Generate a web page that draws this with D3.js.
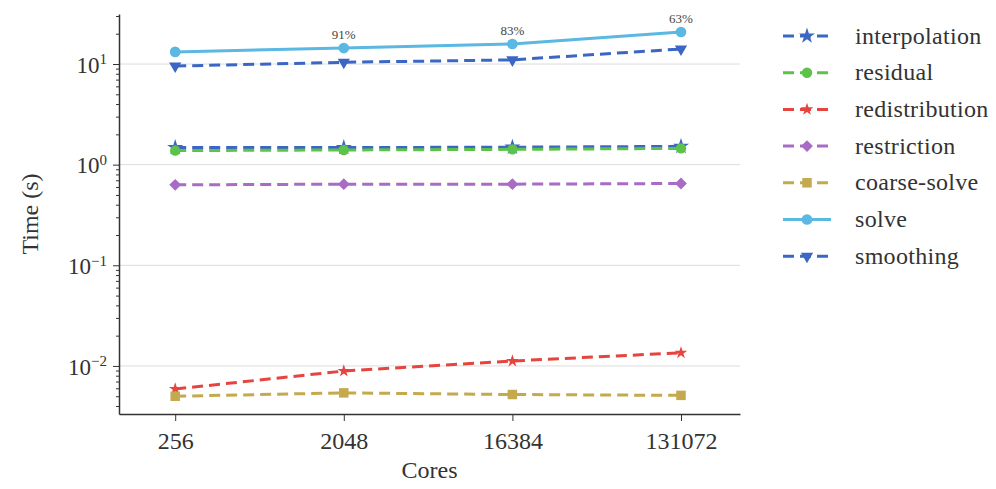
<!DOCTYPE html>
<html>
<head>
<meta charset="utf-8">
<script src="https://cdn.jsdelivr.net/npm/d3@7"></script>
<style>
  body { margin: 0; background: #fff; }
  svg text { font-family: "Liberation Serif", "DejaVu Serif", serif !important; }
</style>
</head>
<body>
<svg id="drawing_region"></svg>
<script>
// data
const cores = [256, 2048, 16384, 131072];
const seriesNames = ["interpolation", "residual", "redistribution", "restriction", "coarse-solve", "solve", "smoothing"];
const interpolation = [1.48, 1.48, 1.49, 1.52];
const residual = [1.38, 1.40, 1.42, 1.45];
const redistribution = [0.0059, 0.0089, 0.0112, 0.0135];
const restriction = [0.63, 0.64, 0.64, 0.65];
const coarseSolve = [0.0050, 0.0054, 0.0052, 0.0051];
const solve = [13.2, 14.4, 15.8, 20.8];
const smoothing = [9.55, 10.4, 11.0, 14.1];
const efficiency = ["", "91%", "83%", "63%"];
const yTicks = [0.01, 0.1, 1, 10];

const values = [interpolation, residual, redistribution, restriction, coarseSolve, solve, smoothing];
const colors = ["#3c66c4", "#5cc24a", "#e5443f", "#a86cc4", "#c4a94e", "#5ab8e2", "#3c66c4"];
const symbols = [d3.symbolStar, d3.symbolCircle, d3.symbolStar, d3.symbolDiamond2, d3.symbolSquare, d3.symbolCircle, d3.symbolTriangle];
const symSize = [80, 85, 50, 90, 90, 90, 65];
const dashed = [true, true, true, true, true, false, true];

const config = {
    width: 996, height: 489,
    margin: {top: 14, right: 256, bottom: 75, left: 119}
};

const svg = d3.select('#drawing_region')
    .attr('width', config.width)
    .attr('height', config.height);

const iw = config.width - config.margin.left - config.margin.right;
const ih = config.height - config.margin.top - config.margin.bottom;

const chart = svg.append('g')
    .attr('transform', `translate(${config.margin.left}, ${config.margin.top})`);

const x = d3.scaleLog().base(2)
    .domain([Math.pow(2, 7), Math.pow(2, 18.05)])
    .range([0, iw]);

const y = d3.scaleLog()
    .domain([0.00333, 31.4])
    .range([ih, 0]);

// grid lines
chart.selectAll('.grid')
    .data(yTicks)
    .enter()
    .append('line')
    .attr('x1', 0).attr('x2', iw)
    .attr('y1', d => y(d)).attr('y2', d => y(d))
    .attr('stroke', '#dcdcdc')
    .attr('stroke-width', 1);

// y axis with minor ticks
const minor = [];
for (let e = -3; e <= 1; e++) {
    for (let m = 2; m <= 9; m++) {
        const v = m * Math.pow(10, e);
        if (v > y.domain()[0] && v < y.domain()[1]) minor.push(v);
    }
}
chart.append('g')
    .call(d3.axisLeft(y).tickValues(minor).tickSize(3).tickFormat(''))
    .call(g => g.select('.domain').remove())
    .selectAll('line').attr('stroke', '#333');

const yAxis = chart.append('g')
    .call(d3.axisLeft(y).tickValues(yTicks).tickSize(6).tickSizeOuter(0).tickFormat(''));
yAxis.select('.domain').attr('stroke', '#333').attr('stroke-width', 1.5);
yAxis.selectAll('line').attr('stroke', '#333');

yAxis.selectAll('.tick')
    .append('text')
    .attr('x', -12)
    .attr('dy', '0.35em')
    .attr('text-anchor', 'end')
    .attr('fill', '#333')
    .attr('font-size', '23px')
    .each(function(d) {
        const exp = Math.round(Math.log10(d));
        const t = d3.select(this);
        t.append('tspan').text('10');
        t.append('tspan').attr('dy', '-0.55em').attr('font-size', '15px').text(exp < 0 ? '\u2212' + (-exp) : exp);
    });

// x axis
const xAxis = chart.append('g')
    .attr('transform', `translate(0, ${ih})`)
    .call(d3.axisBottom(x).tickValues(cores).tickSize(7).tickSizeOuter(0).tickFormat(d3.format('d')));
xAxis.select('.domain').attr('stroke', '#333').attr('stroke-width', 1.5);
xAxis.selectAll('line').attr('stroke', '#333');
xAxis.selectAll('text')
    .attr('font-size', '24px')
    .attr('fill', '#333')
    .attr('dy', '1.05em');

// axis labels
svg.append('text')
    .attr('transform', `translate(38, ${config.margin.top + ih / 2}) rotate(-90)`)
    .attr('text-anchor', 'middle')
    .attr('font-size', '24px')
    .attr('fill', '#333')
    .text('Time (s)');

svg.append('text')
    .attr('x', config.margin.left + iw / 2)
    .attr('y', 478)
    .attr('text-anchor', 'middle')
    .attr('font-size', '24px')
    .attr('fill', '#333')
    .text('Cores');

// lines and markers
const line = d3.line()
    .x(d => x(d[0]))
    .y(d => y(d[1]));

const rotation = i => (symbols[i] === d3.symbolTriangle ? 180 : 0);

seriesNames.forEach((name, i) => {
    const pts = cores.map((c, j) => [c, values[i][j]]);
    chart.append('path')
        .datum(pts)
        .attr('d', line)
        .attr('fill', 'none')
        .attr('stroke', colors[i])
        .attr('stroke-width', 3)
        .attr('stroke-dasharray', dashed[i] ? '11,6' : null);
    chart.selectAll('.m' + i)
        .data(pts)
        .enter()
        .append('path')
        .attr('d', d3.symbol().type(symbols[i]).size(symSize[i]))
        .attr('transform', d => `translate(${x(d[0])}, ${y(d[1])}) rotate(${rotation(i)})`)
        .attr('fill', colors[i]);
});

// efficiency labels above solve
chart.selectAll('.eff')
    .data(cores.map((c, j) => [c, solve[j], efficiency[j]]))
    .enter()
    .append('text')
    .attr('x', d => x(d[0]))
    .attr('y', d => y(d[1]) - 9)
    .attr('text-anchor', 'middle')
    .attr('font-size', '13px')
    .attr('fill', '#444')
    .text(d => d[2]);

// legend
const legend = svg.append('g')
    .attr('transform', 'translate(783, 36)');
const rows = legend.selectAll('g')
    .data(seriesNames)
    .enter()
    .append('g')
    .attr('transform', (d, i) => `translate(0, ${i * 36.7})`);
rows.append('line')
    .attr('x1', 0).attr('x2', 48)
    .attr('stroke', (d, i) => colors[i])
    .attr('stroke-width', 3)
    .attr('stroke-dasharray', (d, i) => dashed[i] ? '11,6' : null);
rows.append('path')
    .attr('d', (d, i) => d3.symbol().type(symbols[i]).size(symSize[i])())
    .attr('transform', (d, i) => `translate(24, 0) rotate(${rotation(i)})`)
    .attr('fill', (d, i) => colors[i]);
rows.append('text')
    .attr('x', 72)
    .attr('dy', '0.32em')
    .attr('font-size', '24px')
    .attr('letter-spacing', '0.3px')
    .attr('fill', '#333')
    .text(d => d);
</script>
</body>
</html>
